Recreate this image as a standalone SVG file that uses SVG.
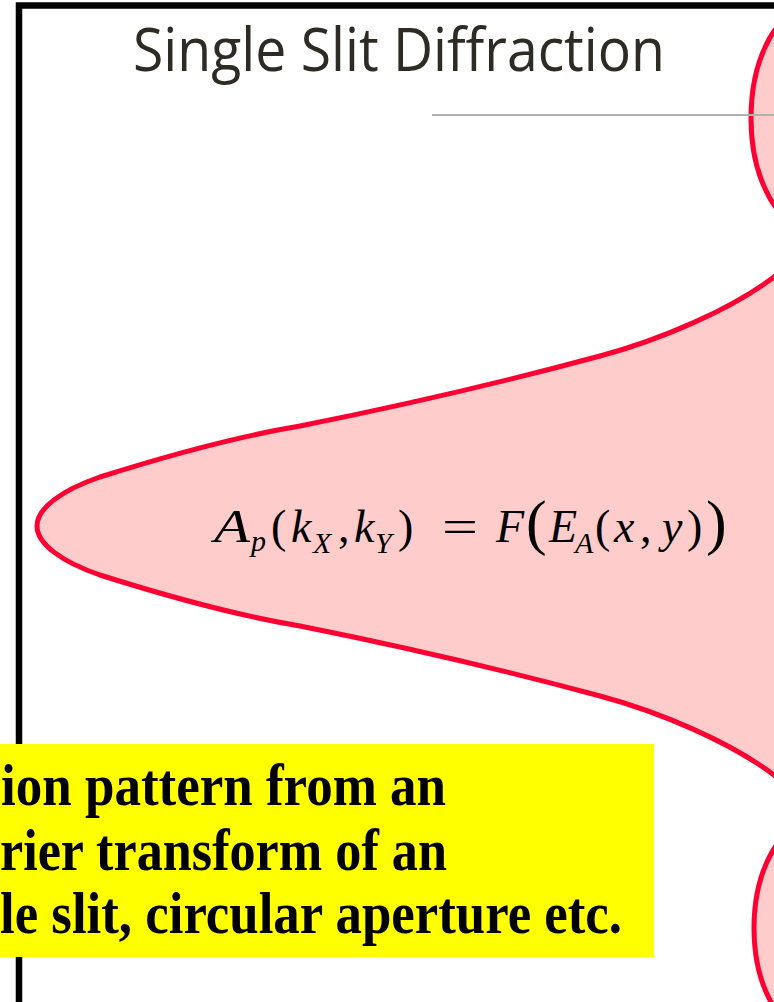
<svg xmlns="http://www.w3.org/2000/svg" width="774" height="1002" viewBox="0 0 774 1002">
<style>
.lobe{fill:#ffcccc;stroke:#ff0033;stroke-width:5;stroke-linejoin:round}
.m{font-family:"Liberation Serif","Times New Roman",serif;font-size:46px;fill:#000}
.i{font-style:italic}
.s{font-size:30px}
.b{font-size:62px}
.note{font-family:"Liberation Serif","Times New Roman",serif;font-weight:bold;font-size:59px;fill:#000}
</style>
<rect width="774" height="1002" fill="#ffffff"/>
<g id="frame">
<rect x="19" y="5.5" width="820" height="1100" fill="none" stroke="#000" stroke-width="6.5"/>
</g>
<g id="title">
<text x="133" y="71" font-family="'Open Sans','Noto Sans',sans-serif" font-size="60" fill="#2e2a24" textLength="532" lengthAdjust="spacingAndGlyphs">Single Slit Diffraction</text>
</g>
<g id="lobes">
<ellipse class="lobe" cx="815" cy="118" rx="64" ry="113"/>
<path class="lobe" d="M37 526 C37 508 62 490 100 477 C160 458 240 436 300 426 C400 406 500 383 600 356 C660 340 730 310 774 277 L795 260 L795 792 L774 775 C730 742 660 712 600 696 C500 669 400 646 300 626 C240 616 160 594 100 575 C62 562 37 544 37 526 Z"/>
<ellipse class="lobe" cx="815" cy="928" rx="61" ry="107"/>
</g>
<g id="axis">
<line x1="432" y1="115" x2="774" y2="115" stroke="#b0b0b0" stroke-width="2"/>
</g>
<g id="formula">
<text class="m i" x="214" y="542" textLength="36" lengthAdjust="spacingAndGlyphs">A</text>
<text class="m i s" x="251" y="551">p</text>
<text class="m" x="271" y="542">(</text>
<text class="m i" x="291" y="542">k</text>
<text class="m i s" x="313" y="553">X</text>
<text class="m" x="338" y="542">,</text>
<text class="m i" x="354" y="542">k</text>
<text class="m i s" x="375" y="553">Y</text>
<text class="m" x="398" y="542">)</text>
<text class="m" x="442" y="542" textLength="36" lengthAdjust="spacingAndGlyphs">=</text>
<text class="m i" x="496" y="542">F</text>
<text class="m b" x="526" y="543">(</text>
<text class="m i" x="549" y="542">E</text>
<text class="m i s" x="575" y="553">A</text>
<text class="m" x="595" y="542">(</text>
<text class="m i" x="614" y="542">x</text>
<text class="m" x="640" y="542">,</text>
<text class="m i" x="662" y="542">y</text>
<text class="m" x="687" y="542">)</text>
<text class="m b" x="706" y="543">)</text>
</g>
<g id="note">
<rect x="0" y="744" width="654" height="213" fill="#ffff00"/>
<text class="note" x="1" y="805" textLength="445" lengthAdjust="spacingAndGlyphs">ion pattern from an</text>
<text class="note" x="0" y="870" textLength="447" lengthAdjust="spacingAndGlyphs">rier transform of an</text>
<text class="note" x="0" y="933" textLength="622" lengthAdjust="spacingAndGlyphs">le slit, circular aperture etc.</text>
</g>
</svg>
